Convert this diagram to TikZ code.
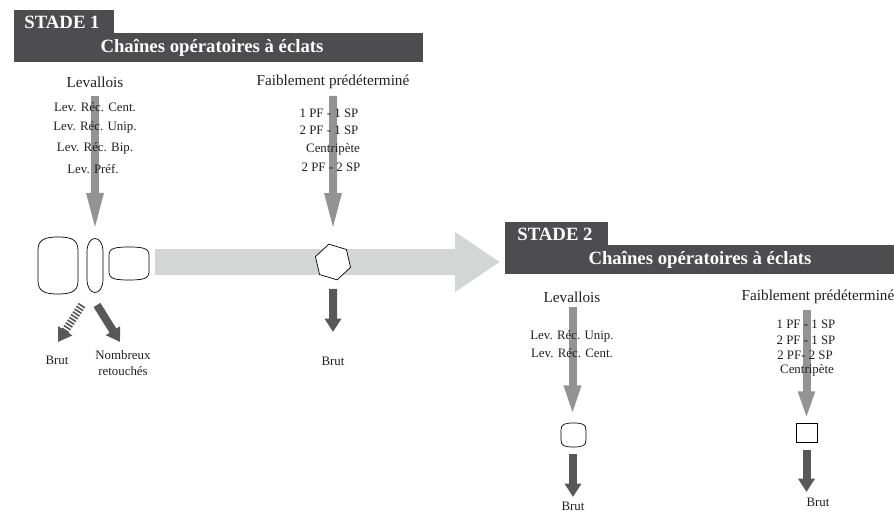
\documentclass[tikz,border=0pt]{standalone}
\usepackage{fontspec}
\setmainfont{Liberation Serif}
\usetikzlibrary{arrows.meta,shapes.geometric}
\definecolor{bandgray}{HTML}{4D4D4F}
\definecolor{flowgray}{HTML}{939393}
\definecolor{passgray}{HTML}{D4D5D5}
\definecolor{outgray}{HTML}{58585A}
\definecolor{ink}{HTML}{231F20}

\begin{document}
\begin{tikzpicture}[x=0.03cm,y=-0.03cm,
  band/.style={fill=bandgray,draw=none},
  bandtext/.style={white,font=\bfseries\fontsize{16}{18}\selectfont,inner sep=0},
  head/.style={ink,font=\fontsize{13}{15}\selectfont,inner sep=0},
  lst/.style={ink,font=\fontsize{11}{13}\selectfont,inner sep=0},
  flow/.style={flowgray,line width=0.24cm,-{Triangle[length=#1,width=0.45cm]}},
  outarrow/.style={outgray,line width=0.24cm,-{Triangle[length=0.4cm,width=0.48cm]}},
  form/.style={draw=black,fill=white,line width=0.6pt}]
\useasboundingbox (0,0) rectangle (894,512);

\fill[band] (14,10) rectangle (114,33);
\fill[band] (14,33) rectangle (423,62);
\node[bandtext] (stade1) at (62,22) {STADE 1};
\node[bandtext] (chaine1) at (212,48) {Chaînes opératoires à éclats};

\coordinate (pass1) at (155,262);
\coordinate (pass2) at (500,262);
\draw[passgray,line width=0.78cm,-{Triangle[length=1.35cm,width=1.71cm]}] (pass1) -- (pass2);

\draw[form] (38,250) .. controls (38,239) and (46,237) .. (58,237) .. controls (70,237) and (78,239) .. (78,250)
  -- (78,281) .. controls (78,292) and (70,294) .. (58,294) .. controls (46,294) and (38,292) .. (38,281) -- cycle;
\draw[form] (87,252) .. controls (87,234) and (103,234) .. (103,252)
  -- (103,279) .. controls (103,297) and (87,297) .. (87,279) -- cycle;
\draw[form] (109,255) .. controls (109,248) and (116,247) .. (129,247) .. controls (142,247) and (149,248) .. (149,255)
  -- (149,272) .. controls (149,279) and (142,280) .. (129,280) .. controls (116,280) and (109,279) .. (109,272) -- cycle;
\node[form,regular polygon,regular polygon sides=6,minimum size=1.1cm,inner sep=0,rotate=-17] (hex) at (333,262) {};

\coordinate (lev1top) at (95,96);
\coordinate (lev1end) at (95,233);
\coordinate (pf1top) at (333,96);
\draw[flow=1.2cm] (lev1top) -- (lev1end);
\draw[flow=1.2cm,shorten >=0.36cm] (pf1top) -- (hex);

\coordinate (brut1a) at (82,305);
\coordinate (brut1b) at (58,342);
\coordinate (ret1a) at (97,305);
\coordinate (ret1b) at (120,342);
\coordinate (hexout) at (333,332);
\draw[outarrow,dash pattern=on 1.4pt off 1.4pt] (brut1a) -- (brut1b);
\draw[outarrow] (ret1a) -- (ret1b);
\draw[outarrow,shorten <=0.3cm] (hex) -- (hexout);

\node[head] (lev1) at (95,82) {Levallois};
\node[head] (pf1) at (333,82) {Faiblement prédéterminé};
\node[lst] (l1a) at (95,107) {Lev. Réc. Cent.};
\node[lst] (l1b) at (95,127) {Lev. Réc. Unip.};
\node[lst] (l1c) at (95,148) {Lev. Réc. Bip.};
\node[lst] (l1d) at (93,169) {Lev. Préf.};
\node[lst] (p1a) at (329,113) {1 PF - 1 SP};
\node[lst] (p1b) at (329,130) {2 PF - 1 SP};
\node[lst] (p1c) at (333,149) {Centripète};
\node[lst] (p1d) at (331,167) {2 PF - 2 SP};
\node[lst] (brut1) at (57,360) {Brut};
\node[lst,align=center] (retouche) at (123,363) {Nombreux\\retouchés};
\node[lst] (brut2) at (333,361) {Brut};

\fill[band] (505,222) rectangle (608,245);
\fill[band] (505,245) rectangle (894,274);
\node[bandtext] (stade2) at (555,234) {STADE 2};
\node[bandtext] (chaine2) at (700,260) {Chaînes opératoires à éclats};

\draw[form] (561,430) .. controls (561,424) and (565,423) .. (573.5,423) .. controls (582,423) and (586,424) .. (586,430)
  -- (586,440) .. controls (586,446) and (582,447) .. (573.5,447) .. controls (565,447) and (561,446) .. (561,440) -- cycle;
\node[form,minimum width=0.63cm,minimum height=0.57cm,inner sep=0] (sq) at (806.5,432.5) {};

\coordinate (lev2top) at (572.5,307);
\coordinate (lev2end) at (572.5,417);
\coordinate (pf2top) at (806.5,310);
\draw[flow=0.95cm] (lev2top) -- (lev2end);
\draw[flow=0.85cm,shorten >=0.09cm] (pf2top) -- (sq);

\coordinate (lev2out) at (573,454);
\coordinate (lev2brut) at (573,497);
\coordinate (pf2brut) at (806.5,492);
\draw[outarrow] (lev2out) -- (lev2brut);
\draw[outarrow,shorten <=0.24cm] (sq) -- (pf2brut);

\node[head] (lev2) at (572,297) {Levallois};
\node[head] (pf2) at (818,297) {Faiblement prédéterminé};
\node[lst] (l2a) at (572,336) {Lev. Réc. Unip.};
\node[lst] (l2b) at (572,353) {Lev. Réc. Cent.};
\node[lst] (p2a) at (806,324) {1 PF - 1 SP};
\node[lst] (p2b) at (806,340) {2 PF - 1 SP};
\node[lst] (p2c) at (805,355) {2 PF- 2 SP};
\node[lst] (p2d) at (807,370) {Centripète};
\node[lst] (brut3) at (573,506) {Brut};
\node[lst] (brut4) at (818,502) {Brut};
\end{tikzpicture}
\end{document}
